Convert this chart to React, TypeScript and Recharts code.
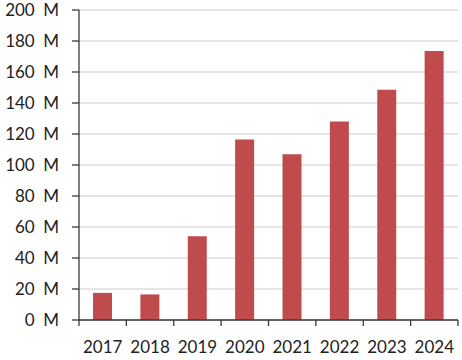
import { Bar, BarChart, CartesianGrid, XAxis, YAxis } from 'recharts';

const years = ['2017', '2018', '2019', '2020', '2021', '2022', '2023', '2024'];
const revenue = [17.5, 16.5, 54, 116.5, 107, 128, 148.5, 173.5];
const yTicks = [0, 20, 40, 60, 80, 100, 120, 140, 160, 180, 200];

const data = years.map((year, i) => ({ year, value: revenue[i] }));

const FONT = 'Lato, "Open Sans", sans-serif';
const AXIS = '#3a3a3a';

function YearTick(props: any) {
  const { x, y, width, index, payload } = props;
  const half = width / (2 * years.length);
  const last = index === years.length - 1;
  return (
    <g>
      <line x1={x - half} x2={x - half} y1={y} y2={y + 6} stroke={AXIS} strokeWidth={1.3} />
      {last && <line x1={x + half} x2={x + half} y1={y} y2={y + 6} stroke={AXIS} strokeWidth={1.3} />}
      <text x={x} y={y + 33} textAnchor="middle" fill="#222" fontFamily={FONT} fontSize={17}>
        {payload.value}
      </text>
    </g>
  );
}

export default function App() {
  return (
    <div style={{ position: 'absolute', left: 0, top: 0, background: '#fff' }}>
      <BarChart
        width={462}
        height={360}
        data={data}
        margin={{ top: 10, right: 4, left: 0, bottom: 0 }}
        barSize={19}
      >
        <CartesianGrid vertical={false} stroke="#dcdcdc" strokeWidth={1.3} />
        <YAxis
          domain={[0, 200]}
          ticks={yTicks}
          interval={0}
          width={79}
          tickFormatter={(v: number) => `${v}\u2002M`}
          tick={{ fill: '#222', fontFamily: FONT, fontSize: 17 }}
          tickSize={7}
          tickMargin={13}
          axisLine={{ stroke: AXIS, strokeWidth: 1.3 }}
          tickLine={{ stroke: AXIS, strokeWidth: 1.3 }}
        />
        <XAxis
          dataKey="year"
          height={40}
          interval={0}
          tickSize={0}
          tickMargin={0}
          tickLine={false}
          axisLine={{ stroke: AXIS, strokeWidth: 1.3 }}
          tick={<YearTick />}
        />
        <Bar dataKey="value" fill="#c04b4d" isAnimationActive={false} />
      </BarChart>
    </div>
  );
}
